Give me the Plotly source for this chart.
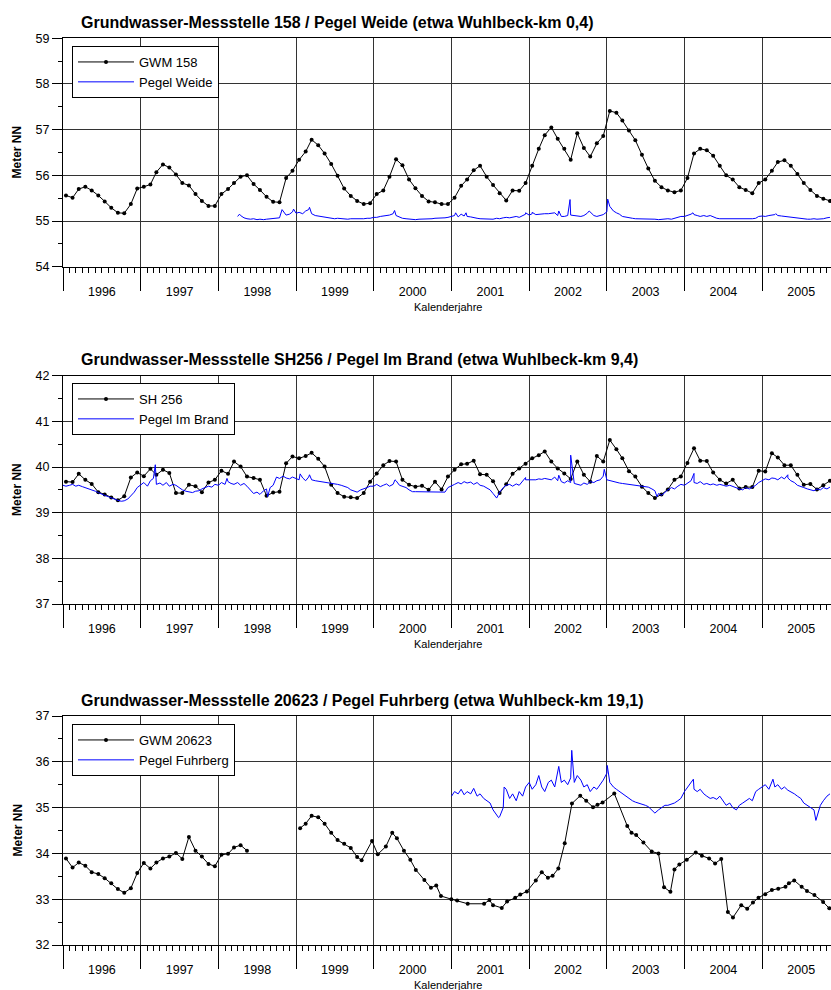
import pandas as pd
import plotly.graph_objects as go

# ---------------- data ----------------
# Plot 1: GWM 158 (monthly, Jan 1996 - Nov 2005)
gwm158_vals = [
    55.56, 55.51, 55.70, 55.75, 55.67, 55.56, 55.43, 55.29, 55.18, 55.17, 55.37, 55.71,
    55.75, 55.80, 56.07, 56.24, 56.17, 56.02, 55.83, 55.78, 55.59, 55.44, 55.33, 55.33,
    55.59, 55.70, 55.83, 55.97, 56.00, 55.81, 55.68, 55.53, 55.42, 55.41, 55.94, 56.10,
    56.34, 56.52, 56.78, 56.66, 56.48, 56.25, 55.99, 55.71, 55.55, 55.44, 55.37, 55.39,
    55.59, 55.67, 55.97, 56.35, 56.22, 55.91, 55.72, 55.55, 55.43, 55.41, 55.37, 55.37,
    55.51, 55.77, 55.91, 56.11, 56.21, 55.97, 55.79, 55.61, 55.45, 55.67, 55.66, 55.83,
    56.21, 56.58, 56.88, 57.05, 56.80, 56.58, 56.34, 56.92, 56.60, 56.41, 56.70, 56.86,
    57.41, 57.37, 57.20, 56.98, 56.77, 56.45, 56.15, 55.88, 55.74, 55.67, 55.63, 55.67,
    55.94, 56.48, 56.58, 56.55, 56.43, 56.21, 56.00, 55.91, 55.74, 55.68, 55.61, 55.83,
    55.91, 56.10, 56.29, 56.33, 56.21, 56.03, 55.83, 55.68, 55.55, 55.49, 55.44,
]
# Plot 1: Pegel Weide (semi-monthly from Apr 1998) + short peaks
weide_vals = [
    55.10, 55.12, 55.07, 55.05, 55.04, 55.05, 55.03, 55.04, 55.03, 55.04, 55.05, 55.05,
    55.06, 55.07, 55.21, 55.13, 55.15, 55.20,
    55.17, 55.19, 55.16, 55.22, 55.25, 55.16, 55.12, 55.11, 55.09, 55.08, 55.07, 55.06,
    55.05, 55.06, 55.05, 55.05, 55.04, 55.05, 55.05, 55.04, 55.05, 55.05, 55.06, 55.06,
    55.08, 55.08, 55.10, 55.11, 55.12, 55.13, 55.16, 55.12, 55.08, 55.06, 55.05, 55.04,
    55.04, 55.03, 55.04, 55.04, 55.05, 55.04, 55.05, 55.06, 55.06, 55.07, 55.07, 55.08,
    55.10, 55.12, 55.09, 55.15, 55.11, 55.10, 55.09, 55.07, 55.06, 55.05, 55.05, 55.04,
    55.05, 55.04, 55.06, 55.05, 55.07, 55.08, 55.07, 55.09, 55.10, 55.08, 55.12, 55.15,
    55.13, 55.16, 55.14, 55.15, 55.15, 55.16, 55.16, 55.17, 55.18, 55.12, 55.10, 55.10,
    55.12, 55.13, 55.12, 55.11, 55.10, 55.12, 55.17, 55.20, 55.12, 55.10, 55.12, 55.14,
    55.20, 55.32, 55.22, 55.18, 55.15, 55.10, 55.08, 55.07, 55.06, 55.05, 55.05, 55.04,
    55.05, 55.04, 55.04, 55.04, 55.03, 55.04, 55.05, 55.05, 55.04, 55.06, 55.07, 55.10,
    55.10, 55.12, 55.15, 55.14, 55.12, 55.10, 55.12, 55.10, 55.12, 55.09, 55.06, 55.05,
    55.05, 55.04, 55.04, 55.05, 55.04, 55.05, 55.05, 55.04, 55.05, 55.05, 55.06, 55.10,
    55.11, 55.10, 55.12, 55.13, 55.14, 55.12, 55.11, 55.10, 55.09, 55.08, 55.07, 55.06,
    55.05, 55.05, 55.04, 55.04, 55.05, 55.04, 55.04, 55.05, 55.07, 55.08,
]
weide_peak_dates = ["1998-04-10", "1998-10-27", "1998-12-20", "1999-03-05", "2000-04-08",
                    "2001-01-20", "2001-03-10", "2001-12-15", "2002-01-15", "2002-05-20",
                    "2002-07-12", "2002-10-10", "2003-01-05", "2004-02-10", "2005-03-05"]
weide_peak_vals = [55.15, 55.25, 55.26, 55.30, 55.23, 55.18, 55.18, 55.18, 55.19, 55.22,
                   55.47, 55.22, 55.48, 55.18, 55.16]

# Plot 2: SH 256 (monthly, Jan 1996 - Nov 2005)
sh256_vals = [
    39.68, 39.67, 39.85, 39.72, 39.63, 39.45, 39.40, 39.33, 39.27, 39.36, 39.77, 39.88,
    39.80, 39.96, 39.83, 39.94, 39.87, 39.43, 39.43, 39.61, 39.58, 39.45, 39.66, 39.72,
    39.92, 39.85, 40.12, 40.01, 39.79, 39.76, 39.72, 39.37, 39.44, 39.46, 40.08, 40.23,
    40.19, 40.24, 40.31, 40.18, 40.01, 39.61, 39.43, 39.35, 39.34, 39.32, 39.43, 39.68,
    39.86, 40.04, 40.13, 40.12, 39.72, 39.61, 39.57, 39.59, 39.50, 39.68, 39.51, 39.79,
    39.94, 40.06, 40.07, 40.14, 39.84, 39.83, 39.69, 39.43, 39.62, 39.85, 39.97, 40.07,
    40.19, 40.26, 40.34, 40.12, 39.97, 39.86, 39.74, 40.12, 39.83, 39.68, 40.24, 40.12,
    40.59, 40.39, 40.19, 39.91, 39.79, 39.57, 39.43, 39.32, 39.40, 39.51, 39.72, 39.79,
    40.09, 40.41, 40.14, 40.13, 39.88, 39.72, 39.64, 39.72, 39.53, 39.56, 39.56, 39.92,
    39.90, 40.30, 40.21, 40.04, 40.04, 39.83, 39.61, 39.63, 39.51, 39.60, 39.70,
]
# Plot 2: Pegel Im Brand (semi-monthly from Jan 1996) + short peaks
brand_vals = [
    39.60, 39.58, 39.60, 39.62, 39.58, 39.60, 39.57, 39.55, 39.52, 39.50, 39.47, 39.44,
    39.40, 39.38, 39.35, 39.32, 39.30, 39.27, 39.25, 39.26, 39.30, 39.36, 39.45, 39.55,
    39.60, 39.66, 39.58, 39.70, 39.75, 39.62, 39.65, 39.60, 39.66, 39.58, 39.62, 39.60,
    39.55, 39.50, 39.47, 39.45, 39.44, 39.47, 39.48, 39.52, 39.55, 39.58, 39.56, 39.62,
    39.60, 39.66, 39.62, 39.68, 39.64, 39.62, 39.66, 39.60, 39.64, 39.58, 39.50, 39.42,
    39.45, 39.40, 39.48, 39.52, 39.55, 39.60, 39.78, 39.75, 39.80, 39.76, 39.74, 39.78,
    39.75, 39.72, 39.76, 39.70, 39.78, 39.72, 39.70, 39.69, 39.68, 39.67, 39.66, 39.65,
    39.64, 39.62, 39.60, 39.58, 39.55, 39.50, 39.48, 39.45, 39.50, 39.52, 39.55, 39.58,
    39.58, 39.62, 39.57, 39.60, 39.63, 39.58, 39.62, 39.70, 39.60, 39.58, 39.55, 39.50,
    39.46, 39.46, 39.46, 39.46, 39.46, 39.46, 39.46, 39.46, 39.46, 39.46, 39.45, 39.55,
    39.58, 39.62, 39.66, 39.63, 39.68, 39.65, 39.67, 39.62, 39.66, 39.60, 39.58, 39.55,
    39.50, 39.42, 39.32, 39.45, 39.55, 39.60, 39.62, 39.58, 39.63, 39.60, 39.68, 39.72,
    39.72, 39.73, 39.72, 39.74, 39.73, 39.75, 39.74, 39.72, 39.78, 39.70, 39.68, 39.65,
    39.70, 39.66, 39.64, 39.62, 39.60, 39.65, 39.62, 39.68, 39.66, 39.70, 39.72, 39.80,
    39.72, 39.70, 39.68, 39.67, 39.65, 39.64, 39.63, 39.62, 39.62, 39.61, 39.60, 39.59,
    39.58, 39.56, 39.52, 39.48, 39.42, 39.38, 39.45, 39.50, 39.55, 39.52, 39.58, 39.62,
    39.60, 39.64, 39.70, 39.66, 39.64, 39.68, 39.62, 39.64, 39.61, 39.63, 39.60, 39.62,
    39.60, 39.58, 39.60, 39.57, 39.55, 39.52, 39.50, 39.55, 39.52, 39.56, 39.60, 39.66,
    39.70, 39.74, 39.72, 39.76, 39.75, 39.72, 39.78, 39.74, 39.76, 39.70, 39.66, 39.60,
    39.58, 39.55, 39.52, 39.50, 39.48, 39.52, 39.50, 39.55, 39.52, 39.56,
]
brand_peak_dates = ["1997-03-10", "1998-02-10", "1998-08-20", "1999-01-20", "1999-03-05",
                    "2000-04-10", "2001-12-15", "2002-05-20", "2002-07-15", "2002-12-20",
                    "2003-08-25", "2004-02-15", "2005-05-01"]
brand_peak_vals = [40.05, 39.75, 39.35, 39.85, 39.83, 39.72, 39.77, 39.82, 40.26, 39.95,
                   39.35, 39.86, 39.83]

# Plot 3: GWM 20623 (monthly Jan 1996 - May 1998, then irregular dates)
gwm20623_early_vals = [
    33.89, 33.69, 33.80, 33.73, 33.59, 33.55, 33.46, 33.35, 33.22, 33.14, 33.24, 33.57,
    33.79, 33.67, 33.80, 33.89, 33.93, 34.01, 33.88, 34.36, 34.06, 33.93, 33.77, 33.72,
    33.97, 33.99, 34.13, 34.18, 34.06,
]
gwm20623_dates = [
    "1998-10-01",
    "1999-01-20", "1999-02-15", "1999-03-15", "1999-04-15", "1999-05-15", "1999-06-15",
    "1999-07-15", "1999-08-15", "1999-09-15", "1999-10-15", "1999-11-05", "1999-12-24",
    "2000-01-20", "2000-02-27", "2000-03-28", "2000-04-19", "2000-05-22", "2000-06-21",
    "2000-07-17", "2000-08-26", "2000-09-26", "2000-10-21", "2000-11-12", "2000-12-31",
    "2001-01-27", "2001-03-18", "2001-06-03", "2001-06-28", "2001-07-15", "2001-08-25",
    "2001-09-19", "2001-10-27", "2001-11-20", "2001-12-21", "2002-02-01", "2002-03-01",
    "2002-03-30", "2002-04-21", "2002-05-18", "2002-06-17", "2002-07-21", "2002-08-29",
    "2002-09-26", "2002-10-28", "2002-11-18", "2002-12-12", "2003-02-05", "2003-04-07",
    "2003-04-27", "2003-05-19", "2003-06-22", "2003-07-31", "2003-09-01", "2003-09-27",
    "2003-10-27", "2003-11-15", "2003-12-08", "2004-01-12", "2004-02-23", "2004-03-23",
    "2004-04-26", "2004-05-24", "2004-06-22", "2004-07-23", "2004-08-16", "2004-09-24",
    "2004-10-22", "2004-11-18", "2004-12-14", "2005-01-15", "2005-02-15", "2005-03-17",
    "2005-04-20", "2005-05-06", "2005-05-31", "2005-07-05", "2005-07-30", "2005-09-03",
    "2005-10-14", "2005-11-12",
]
gwm20623_vals = [
    None,
    34.55, 34.65, 34.82, 34.79, 34.65, 34.45, 34.29, 34.21, 34.12, 33.92, 33.85, 34.27,
    33.98, 34.15, 34.45, 34.33, 34.06, 33.86, 33.64, 33.42, 33.25, 33.30, 33.07, 33.00,
    32.97, 32.90, 32.90, 32.98, 32.87, 32.81, 32.95, 33.03, 33.10, 33.17, 33.41, 33.59,
    33.47, 33.51, 33.67, 34.22, 35.09, 35.26, 35.15, 35.01, 35.06, 35.11, 35.31, 34.60,
    34.45, 34.40, 34.24, 34.04, 34.00, 33.26, 33.16, 33.65, 33.76, 33.86, 34.02, 33.95,
    33.89, 33.78, 33.88, 32.72, 32.60, 32.87, 32.79, 32.93, 33.03, 33.11, 33.20, 33.23,
    33.27, 33.35, 33.41, 33.27, 33.18, 33.09, 32.94, 32.80,
]
# Plot 3: Pegel Fuhrberg (semi-monthly from Jan 2001) + short peaks
fuhrberg_vals = [
    35.25, 35.35, 35.30, 35.40, 35.28, 35.35, 35.30, 35.42, 35.25, 35.30, 35.20, 35.15,
    35.10, 34.95, 34.82, 34.80, 35.00, 35.40, 35.20, 35.30, 35.15, 35.35, 35.25, 35.45,
    35.55, 35.40, 35.50, 35.70, 35.45, 35.35, 35.55, 35.60, 35.45, 35.80, 35.55, 35.60,
    35.50, 35.65, 35.55, 35.70, 35.60, 35.45, 35.50, 35.35, 35.45, 35.40, 35.50, 35.60,
    35.75, 35.55, 35.45, 35.40, 35.35, 35.30, 35.25, 35.20, 35.15, 35.12, 35.10, 35.08,
    35.05, 35.02, 34.95, 34.88, 34.95, 35.00, 35.05, 35.05, 35.08, 35.10, 35.15, 35.20,
    35.35, 35.45, 35.55, 35.40, 35.35, 35.40, 35.30, 35.25, 35.20, 35.22, 35.18, 35.25,
    35.15, 35.05, 35.10, 35.00, 34.95, 35.05, 35.10, 35.15, 35.20, 35.15, 35.35, 35.40,
    35.45, 35.50, 35.40, 35.55, 35.45, 35.50, 35.40, 35.45, 35.38, 35.35, 35.30, 35.25,
    35.20, 35.10, 35.05, 35.00, 34.95, 34.80, 35.05, 35.15, 35.25, 35.30,
]
fuhrberg_peak_dates = ["2001-08-10", "2001-09-05", "2002-05-20", "2002-07-20", "2003-01-03",
                       "2004-02-12", "2005-02-20", "2005-09-10"]
fuhrberg_peak_vals = [34.78, 35.45, 35.90, 36.25, 35.92, 35.62, 35.62, 34.72]

titles = [
    "Grundwasser-Messstelle 158 / Pegel Weide (etwa Wuhlbeck-km 0,4)",
    "Grundwasser-Messstelle SH256 / Pegel Im Brand (etwa Wuhlbeck-km 9,4)",
    "Grundwasser-Messstelle 20623 / Pegel Fuhrberg (etwa Wuhlbeck-km 19,1)",
]
x_title = "Kalenderjahre"
y_title = "Meter NN"
y_ranges = [[54, 59], [37, 42], [32, 37]]


# ---------------- helpers ----------------
def monthly(start, n):
    return pd.date_range(start, periods=n, freq="MS") + pd.Timedelta(days=14)


def semimonthly(start, n):
    return pd.date_range(start, periods=n, freq="SMS")


def merged(base_dates, base_vals, peak_dates, peak_vals):
    s = pd.concat([pd.Series(base_vals, index=base_dates),
                   pd.Series(peak_vals, index=pd.to_datetime(peak_dates))]).sort_index()
    return s.index, s.values


FONT = "Liberation Sans, Arial, Helvetica, sans-serif"
BLUE = "#0000ff"

fig = go.Figure()

# Plot 1
fig.add_trace(go.Scatter(x=monthly("1996-01-01", len(gwm158_vals)), y=gwm158_vals,
                         mode="lines+markers", name="GWM 158",
                         line=dict(color="black", width=1), marker=dict(color="black", size=4),
                         xaxis="x", yaxis="y", legend="legend"))
wx, wy = merged(semimonthly("1998-04-01", len(weide_vals)), weide_vals, weide_peak_dates, weide_peak_vals)
fig.add_trace(go.Scatter(x=wx, y=wy, mode="lines", name="Pegel Weide",
                         line=dict(color=BLUE, width=1), xaxis="x", yaxis="y", legend="legend"))

# Plot 2
fig.add_trace(go.Scatter(x=monthly("1996-01-01", len(sh256_vals)), y=sh256_vals,
                         mode="lines+markers", name="SH 256",
                         line=dict(color="black", width=1), marker=dict(color="black", size=4),
                         xaxis="x2", yaxis="y2", legend="legend2"))
bx, by = merged(semimonthly("1996-01-01", len(brand_vals)), brand_vals, brand_peak_dates, brand_peak_vals)
fig.add_trace(go.Scatter(x=bx, y=by, mode="lines", name="Pegel Im Brand",
                         line=dict(color=BLUE, width=1), xaxis="x2", yaxis="y2", legend="legend2"))

# Plot 3
g3x = list(monthly("1996-01-01", len(gwm20623_early_vals))) + list(pd.to_datetime(gwm20623_dates))
g3y = gwm20623_early_vals + gwm20623_vals
fig.add_trace(go.Scatter(x=g3x, y=g3y, mode="lines+markers", name="GWM 20623",
                         line=dict(color="black", width=1), marker=dict(color="black", size=4),
                         connectgaps=False, xaxis="x3", yaxis="y3", legend="legend3"))
fx, fy = merged(semimonthly("2001-01-01", len(fuhrberg_vals)), fuhrberg_vals, fuhrberg_peak_dates, fuhrberg_peak_vals)
fig.add_trace(go.Scatter(x=fx, y=fy, mode="lines", name="Pegel Fuhrberg",
                         line=dict(color=BLUE, width=1), xaxis="x3", yaxis="y3", legend="legend3"))

W, H = 831, 990
L, R = 63, 0
PW = W - L - R


def py(p):
    return 1 - p / H


def px(p):
    return (p - L) / PW


domains = [[py(266.7), py(38.3)], [py(604), py(375.7)], [py(945), py(716)]]


def xaxis(anchor):
    return dict(type="date", range=["1996-01-01", "2005-11-20"], domain=[0, 1], anchor=anchor,
                dtick="M12", tick0="1996-01-01", ticklabelmode="period", tickformat="%Y",
                ticks="outside", ticklen=23, tickwidth=1, tickcolor="black",
                showgrid=True, gridcolor="#333333", gridwidth=1,
                minor=dict(dtick="M1", ticks="outside", ticklen=5, tickwidth=1,
                           tickcolor="black", showgrid=False),
                showline=True, linecolor="black", linewidth=1, mirror=True,
                tickfont=dict(family=FONT, size=12.5, color="black"), zeroline=False,
                ticklabelstandoff=-10, automargin=False)


def yaxis(rng, dom, anchor):
    return dict(range=rng, domain=dom, anchor=anchor, dtick=1, ticks="outside", ticklen=10,
                tickwidth=1, tickcolor="black",
                minor=dict(dtick=0.5, ticks="outside", ticklen=4, tickcolor="black", showgrid=False),
                showgrid=True, gridcolor="#333333", gridwidth=1, showline=True,
                linecolor="black", linewidth=1, zeroline=False, automargin=False,
                tickfont=dict(family=FONT, size=12.5, color="black"))


def legend(ytop):
    return dict(x=px(72), y=py(ytop), xanchor="left", yanchor="top", bgcolor="white",
                bordercolor="black", borderwidth=1, font=dict(family=FONT, size=13, color="black"),
                tracegroupgap=0, itemwidth=56)


annotations = []
title_y = [22, 359.3, 700]
xt_y = [307, 644, 985]
yt_y = [152.5, 489.9, 830.5]
for i in range(3):
    annotations.append(dict(text="<b>" + titles[i] + "</b>", x=px(79), y=py(title_y[i]),
                            xref="paper", yref="paper", xanchor="left", yanchor="middle",
                            showarrow=False, font=dict(family=FONT, size=16, color="black")))
    annotations.append(dict(text=x_title, x=px(448), y=py(xt_y[i]), xref="paper", yref="paper",
                            xanchor="center", yanchor="middle", showarrow=False,
                            font=dict(family=FONT, size=11, color="black")))
    annotations.append(dict(text="<b>" + y_title + "</b>", x=px(17), y=py(yt_y[i]),
                            xref="paper", yref="paper", xanchor="center", yanchor="middle",
                            textangle=-90, showarrow=False,
                            font=dict(family=FONT, size=12, color="black")))

fig.update_layout(
    width=W, height=H, margin=dict(l=L, r=R, t=0, b=0, pad=0, autoexpand=False),
    paper_bgcolor="white", plot_bgcolor="white",
    font=dict(family=FONT, size=12, color="black"),
    xaxis=xaxis("y"), xaxis2=xaxis("y2"), xaxis3=xaxis("y3"),
    yaxis=yaxis(y_ranges[0], domains[0], "x"),
    yaxis2=yaxis(y_ranges[1], domains[1], "x2"),
    yaxis3=yaxis(y_ranges[2], domains[2], "x3"),
    legend=legend(46), legend2=legend(383), legend3=legend(724),
    annotations=annotations, showlegend=True, hovermode=False,
)

# remove the default page margin so the 831x990 figure fills the window exactly
page_fix = ("document.body.style.margin='0';"
            "document.body.style.overflow='hidden';"
            "document.documentElement.style.overflow='hidden';")
fig.write_html("out.html", post_script=page_fix, config={"displayModeBar": False})
